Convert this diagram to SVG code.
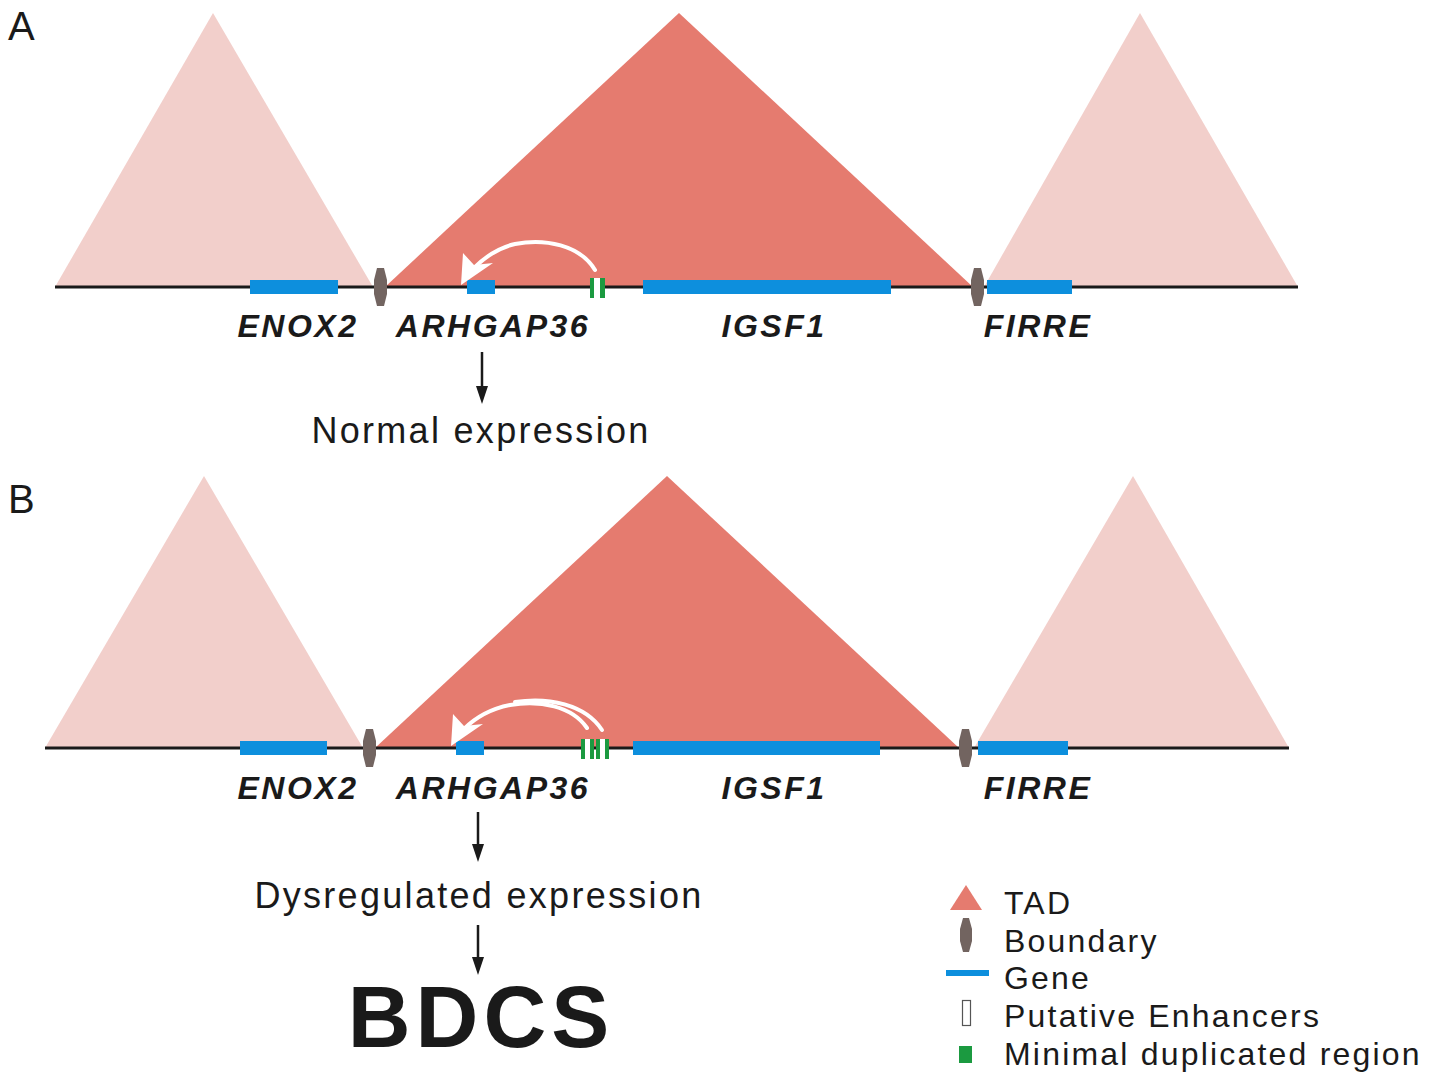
<svg xmlns="http://www.w3.org/2000/svg" width="1440" height="1074" viewBox="0 0 1440 1074">
  <style>
    .tad-side { fill: #f2cfcb; }
    .tad-main { fill: #e57b6f; }
    .chrom { stroke: #1a1a1a; stroke-width: 3; fill: none; }
    .gene { fill: #0d8fdd; }
    .mdr { fill: #1b9a40; }
    .enh { fill: #ffffff; }
    .boundary { fill: #726460; }
    .loop { stroke: #ffffff; stroke-width: 4; fill: none; stroke-linecap: round; }
    .loophead { fill: #ffffff; }
    .gname { font-family: "Liberation Sans", Arial, sans-serif; font-weight: bold; font-style: italic; font-size: 32px; letter-spacing: 2.5px; fill: #1a1a1a; text-anchor: middle; }
    .expr { font-family: "Liberation Sans", Arial, sans-serif; font-size: 36px; letter-spacing: 2.3px; fill: #1a1a1a; text-anchor: middle; }
    .panel { font-family: "Liberation Sans", Arial, sans-serif; font-size: 40px; fill: #1a1a1a; }
    .legend { font-family: "Liberation Sans", Arial, sans-serif; font-size: 32px; letter-spacing: 2.2px; fill: #1a1a1a; }
    .flow { stroke: #1a1a1a; stroke-width: 2.5; fill: none; }
    .flowhead { fill: #1a1a1a; }
  </style>

  <!-- Panel A: wild-type locus -->
  <g id="panelA">
    <text class="panel" x="8" y="40">A</text>
    <g id="A-tads">
      <polygon class="tad-side" points="55,287 213,13 373,287"/>
      <polygon class="tad-main" points="385,287 679,13 973,287"/>
      <polygon class="tad-side" points="984,287 1140,13 1298,287"/>
    </g>
    <line class="chrom" x1="55" y1="287" x2="1298" y2="287"/>
    <g id="A-boundaries">
      <polygon class="boundary" points="377,268 384,268 387,280 387,294 384,306 377,306 374,294 374,280"/>
      <polygon class="boundary" points="974,268 981,268 984,280 984,294 981,306 974,306 971,294 971,280"/>
    </g>
    <g id="A-ENOX2">
      <rect class="gene" x="250" y="280" width="88" height="14"/>
      <text class="gname" x="298" y="337">ENOX2</text>
    </g>
    <g id="A-ARHGAP36">
      <rect class="gene" x="467" y="280" width="28" height="14"/>
      <text class="gname" x="493" y="337">ARHGAP36</text>
    </g>
    <g id="A-IGSF1">
      <rect class="gene" x="643" y="280" width="248" height="14"/>
      <text class="gname" x="774" y="337">IGSF1</text>
    </g>
    <g id="A-FIRRE">
      <rect class="gene" x="987" y="280" width="85" height="14"/>
      <text class="gname" x="1038" y="337">FIRRE</text>
    </g>
    <g id="A-mdr">
      <rect class="mdr" x="590" y="278" width="15" height="20"/>
      <rect class="enh" x="594" y="278" width="6" height="20"/>
    </g>
    <g id="A-loop">
      <path class="loop" d="M595,270 C580,245 545,238 515,244 C497,248 484,258 474,268"/>
      <polygon class="loophead" points="461,285 463,253 474,265 493,263"/>
    </g>
    <g id="A-outcome">
      <line class="flow" x1="482" y1="352" x2="482" y2="388"/>
      <polygon class="flowhead" points="476,386 488,386 482,404"/>
      <text class="expr" x="481" y="443">Normal expression</text>
    </g>
  </g>

  <!-- Panel B: duplicated locus -->
  <g id="panelB">
    <text class="panel" x="8" y="513">B</text>
    <g id="B-tads">
      <polygon class="tad-side" points="45,748 204,476 363,748"/>
      <polygon class="tad-main" points="375,748 667,476 959,748"/>
      <polygon class="tad-side" points="974,748 1133,476 1289,748"/>
    </g>
    <line class="chrom" x1="45" y1="748" x2="1289" y2="748"/>
    <g id="B-boundaries">
      <polygon class="boundary" points="366,729 373,729 376,741 376,755 373,767 366,767 363,755 363,741"/>
      <polygon class="boundary" points="962,729 969,729 972,741 972,755 969,767 962,767 959,755 959,741"/>
    </g>
    <g id="B-ENOX2">
      <rect class="gene" x="240" y="741" width="87" height="14"/>
      <text class="gname" x="298" y="799">ENOX2</text>
    </g>
    <g id="B-ARHGAP36">
      <rect class="gene" x="456" y="741" width="28" height="14"/>
      <text class="gname" x="493" y="799">ARHGAP36</text>
    </g>
    <g id="B-IGSF1">
      <rect class="gene" x="633" y="741" width="247" height="14"/>
      <text class="gname" x="774" y="799">IGSF1</text>
    </g>
    <g id="B-FIRRE">
      <rect class="gene" x="978" y="741" width="90" height="14"/>
      <text class="gname" x="1038" y="799">FIRRE</text>
    </g>
    <g id="B-mdr">
      <rect class="mdr" x="581" y="739" width="13" height="20"/>
      <rect class="enh" x="585" y="739" width="5" height="20"/>
      <rect class="mdr" x="596" y="739" width="13" height="20"/>
      <rect class="enh" x="600" y="739" width="5" height="20"/>
    </g>
    <g id="B-loop">
      <path class="loop" d="M587,728 C572,706 540,700 510,705 C490,709 474,719 464,729"/>
      <path class="loop" d="M602,730 C585,704 548,697 515,702"/>
      <polygon class="loophead" points="451,746 453,714 464,726 483,724"/>
    </g>
    <g id="B-outcome">
      <line class="flow" x1="478" y1="812" x2="478" y2="846"/>
      <polygon class="flowhead" points="472,844 484,844 478,862"/>
      <text class="expr" x="479" y="908">Dysregulated expression</text>
      <line class="flow" x1="478" y1="925" x2="478" y2="959"/>
      <polygon class="flowhead" points="472,957 484,957 478,975"/>
      <text x="481" y="1047" font-family="Liberation Sans, Arial, sans-serif" font-weight="bold" font-size="87" letter-spacing="5" fill="#1a1a1a" text-anchor="middle">BDCS</text>
    </g>
  </g>

  <!-- Key -->
  <g id="legend">
    <g id="legend-tad">
      <polygon class="tad-main" points="966,885 982,910 950,910"/>
      <text class="legend" x="1004" y="914">TAD</text>
    </g>
    <g id="legend-boundary">
      <polygon class="boundary" points="963,918 969,918 972,929 972,941 969,952 963,952 960,941 960,929"/>
      <text class="legend" x="1004" y="952">Boundary</text>
    </g>
    <g id="legend-gene">
      <rect class="gene" x="946" y="970" width="43" height="6"/>
      <text class="legend" x="1004" y="989">Gene</text>
    </g>
    <g id="legend-enhancer">
      <rect x="962.5" y="1000.5" width="8" height="25" fill="#ffffff" stroke="#555555" stroke-width="1.2"/>
      <text class="legend" x="1004" y="1027">Putative Enhancers</text>
    </g>
    <g id="legend-mdr">
      <rect class="mdr" x="959" y="1046" width="13" height="17"/>
      <text class="legend" x="1004" y="1065">Minimal duplicated region</text>
    </g>
  </g>
</svg>
